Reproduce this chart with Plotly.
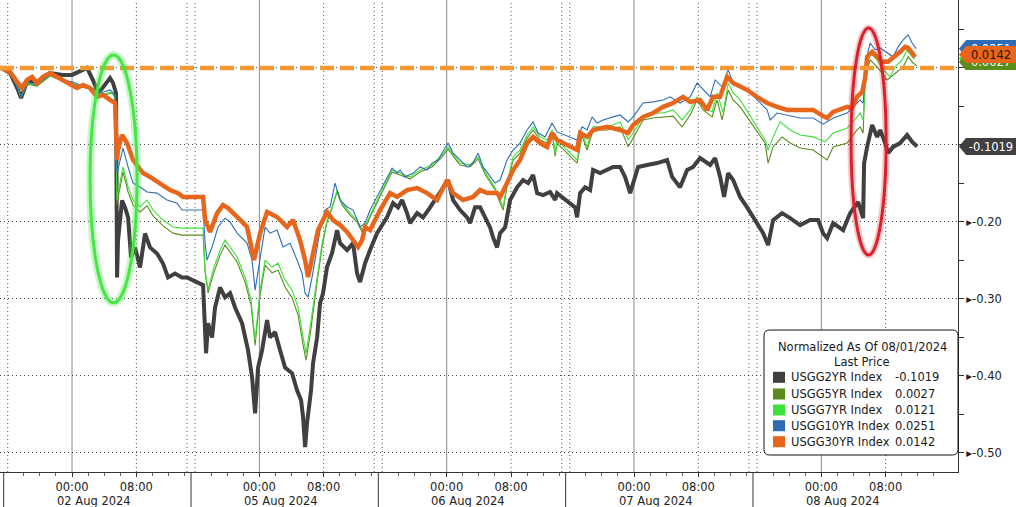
import plotly.graph_objs as go

# x: hours along the session axis (0 = 02 Aug 00:00, one session is ~23.3h wide)
# y: change in yield since the 08/01/2024 close

H_2YR = [
    -8.96, -7.71, -6.72, -6.34, -5.60, -4.35, -2.74, -1.12, 0.00, 0.75,
    1.87, 2.61, 3.23, 3.86, 4.73, 5.10, 5.47, 5.60, 5.72, 6.22,
    6.59, 6.97, 7.34, 7.84, 8.46, 9.08, 9.70, 10.57, 11.32, 11.94,
    12.81, 13.68, 14.31, 16.30, 16.67, 16.92, 17.42, 17.79, 18.41, 19.03,
    19.66, 20.28, 21.15, 21.89, 22.39, 22.77, 23.14, 23.64, 24.26, 24.63,
    25.25, 25.88, 26.50, 27.37, 27.99, 28.49, 28.74, 28.99, 29.23, 29.73,
    29.98, 30.48, 30.85, 31.22, 31.72, 32.34, 32.97, 33.34, 34.21, 34.96,
    35.45, 35.83, 36.45, 37.07, 37.94, 39.19, 39.93, 40.55, 41.05, 41.67,
    42.05, 42.92, 43.66, 44.54, 45.41, 46.15, 46.77, 47.40, 48.27, 49.14,
    49.51, 50.13, 50.76, 51.38, 52.00, 52.37, 52.87, 53.24, 53.87, 54.49,
    55.36, 56.10, 56.73, 57.35, 57.85, 58.59, 59.46, 60.09, 60.33, 62.57,
    62.82, 63.20, 63.82, 64.44, 64.81, 65.68, 66.55, 67.30, 68.17, 68.79,
    69.42, 69.79, 70.41, 71.53, 72.77, 74.02, 74.64, 75.63, 76.51, 77.25,
    78.12, 79.37, 79.99, 80.61, 81.11, 81.61, 82.23, 83.10, 83.97, 85.96,
    86.58, 87.20, 88.32, 89.32, 90.56, 91.80, 92.80, 93.42, 93.92, 94.67,
    95.91, 96.78, 97.78, 98.40, 98.52, 98.90, 99.52, 100.14, 100.52, 101.14,
    101.51, 102.13, 103.00, 103.87, 104.50, 105.12,
]
Y_2YR = [
    0.001, -0.0065, -0.0286, -0.039, -0.018, -0.018, -0.0065, -0.009, -0.009, -0.005,
    0.0, -0.016, -0.0325, -0.025, -0.013, -0.0195, -0.0325, -0.272, -0.224, -0.172,
    -0.181, -0.194, -0.246, -0.233, -0.259, -0.215, -0.233, -0.241, -0.254, -0.272,
    -0.267, -0.272, -0.272, -0.282, -0.3705, -0.3315, -0.350, -0.311, -0.285, -0.298,
    -0.2925, -0.311, -0.3315, -0.3665, -0.4015, -0.4485, -0.389, -0.3665, -0.3275, -0.350,
    -0.343, -0.3665, -0.389, -0.3965, -0.4185, -0.4315, -0.4535, -0.4925, -0.4615, -0.4185,
    -0.3835, -0.350, -0.3055, -0.2925, -0.2585, -0.2405, -0.2105, -0.2275, -0.2365, -0.2275,
    -0.2665, -0.278, -0.2535, -0.2365, -0.2145, -0.1935, -0.1755, -0.181, -0.1715, -0.1885,
    -0.2015, -0.1885, -0.194, -0.181, -0.168, -0.155, -0.1455, -0.1715, -0.1845, -0.194,
    -0.2015, -0.181, -0.181, -0.194, -0.207, -0.220, -0.233, -0.2145, -0.207, -0.1715,
    -0.155, -0.1455, -0.1495, -0.139, -0.1625, -0.165, -0.161, -0.1715, -0.1625, -0.181,
    -0.194, -0.1625, -0.155, -0.1585, -0.1325, -0.1365, -0.1325, -0.1285, -0.1285, -0.1415,
    -0.1625, -0.1495, -0.1285, -0.126, -0.1235, -0.1195, -0.1415, -0.155, -0.1325, -0.1285,
    -0.117, -0.126, -0.117, -0.1415, -0.1675, -0.1365, -0.1455, -0.1675, -0.181, -0.2145,
    -0.230, -0.1975, -0.1885, -0.195, -0.204, -0.1975, -0.1975, -0.2145, -0.221, -0.2015,
    -0.2105, -0.1885, -0.174, -0.195, -0.1235, -0.1025, -0.074, -0.0895, -0.0805, -0.0975,
    -0.1105, -0.1025, -0.0975, -0.087, -0.096, -0.1019,
]

H_5YR = [
    -8.96, -7.71, -6.72, -6.34, -5.60, -4.35, -2.74, -1.12, 0.00, 1.00,
    2.24, 3.48, 4.98, 5.35, 5.60, 5.72, 6.34, 6.97, 7.59, 8.46,
    9.33, 10.08, 11.32, 12.56, 13.68, 16.30, 16.55, 16.92, 17.54, 18.41,
    19.03, 19.66, 20.53, 21.52, 22.27, 22.77, 23.39, 24.01, 24.88, 25.63,
    26.50, 27.37, 28.11, 28.74, 29.11, 29.61, 29.98, 30.48, 31.10, 31.72,
    32.34, 32.97, 33.59, 34.58, 35.45, 36.08, 36.70, 37.07, 39.81, 40.80,
    42.05, 43.29, 44.78, 46.03, 46.77, 47.65, 48.27, 49.51, 50.51, 51.38,
    52.62, 53.24, 53.62, 54.11, 54.86, 55.73, 56.60, 57.35, 58.22, 59.09,
    59.71, 60.09, 60.33, 62.82, 63.44, 64.07, 64.81, 66.55, 68.17, 69.17,
    69.79, 71.03, 72.28, 73.52, 74.76, 75.88, 76.88, 77.75, 78.50, 79.62,
    80.24, 80.86, 81.61, 82.23, 83.10, 86.21, 86.58, 87.20, 88.32, 89.32,
    90.56, 92.18, 93.92, 94.67, 96.41, 97.65, 98.03, 98.40, 98.65, 99.27,
    100.14, 101.39, 102.38, 103.38, 104.00, 104.62, 105.12,
]
Y_5YR = [
    0.001, -0.005, -0.027, -0.039, -0.021, -0.0235, -0.0105, -0.017, -0.021, -0.0245,
    -0.027, -0.0365, -0.0325, -0.039, -0.178, -0.169, -0.135, -0.161, -0.178, -0.187,
    -0.179, -0.192, -0.205, -0.2145, -0.217, -0.217, -0.265, -0.292, -0.269, -0.243,
    -0.230, -0.239, -0.252, -0.278, -0.308, -0.360, -0.295, -0.256, -0.266, -0.2625,
    -0.2845, -0.2985, -0.3205, -0.360, -0.3795, -0.347, -0.3205, -0.278, -0.2325, -0.200,
    -0.182, -0.161, -0.178, -0.191, -0.200, -0.213, -0.2025, -0.1935, -0.135, -0.139,
    -0.144, -0.135, -0.1285, -0.1155, -0.105, -0.118, -0.126, -0.1285, -0.118, -0.138,
    -0.1585, -0.1755, -0.1845, -0.1535, -0.1195, -0.1105, -0.091, -0.0805, -0.0935, -0.0975,
    -0.0845, -0.1145, -0.0975, -0.1235, -0.0885, -0.1065, -0.0805, -0.0805, -0.0765, -0.1025,
    -0.091, -0.0675, -0.065, -0.0635, -0.0625, -0.0765, -0.061, -0.0415, -0.0545, -0.0635,
    -0.0415, -0.0675, -0.0285, -0.0415, -0.0505, -0.0975, -0.1235, -0.1025, -0.0895, -0.0975,
    -0.104, -0.1065, -0.1195, -0.1025, -0.0975, -0.0805, -0.0765, -0.0845, -0.0115, 0.0105,
    0.0015, -0.0155, -0.0065, 0.0015, 0.0145, 0.0065, 0.0027,
]

H_7YR = [
    -8.96, -7.71, -6.72, -6.34, -5.60, -4.35, -2.74, -1.12, 0.00, 1.00,
    2.24, 3.48, 4.98, 5.35, 5.60, 5.72, 6.34, 6.97, 7.59, 8.46,
    9.33, 10.08, 11.32, 12.56, 13.68, 16.30, 16.55, 16.92, 17.54, 18.41,
    19.03, 19.66, 20.53, 21.52, 22.27, 22.77, 23.39, 24.01, 24.88, 25.63,
    26.50, 27.37, 28.11, 28.74, 29.11, 29.61, 29.98, 30.48, 31.10, 31.72,
    32.34, 32.97, 33.59, 34.58, 35.45, 36.08, 36.70, 37.07, 39.81, 40.80,
    42.05, 43.29, 44.78, 46.03, 46.77, 47.65, 48.27, 49.51, 50.51, 51.38,
    52.62, 53.24, 53.62, 54.11, 54.86, 55.73, 56.60, 57.35, 58.22, 59.09,
    59.71, 60.09, 60.33, 62.82, 63.44, 64.07, 64.81, 66.55, 68.17, 69.17,
    69.79, 71.03, 72.28, 73.52, 74.76, 75.88, 76.88, 77.75, 78.50, 79.62,
    80.24, 80.99, 81.61, 82.23, 83.10, 86.21, 86.58, 87.20, 88.08, 89.32,
    90.56, 92.18, 93.67, 94.67, 96.41, 97.65, 98.03, 98.40, 98.78, 99.27,
    100.14, 100.89, 101.76, 102.38, 103.25, 103.87, 104.50, 104.87,
]
Y_7YR = [
    0.001, -0.005, -0.026, -0.0375, -0.0195, -0.022, -0.0105, -0.0155, -0.0195, -0.0235,
    -0.026, -0.035, -0.031, -0.0375, -0.1715, -0.1625, -0.1285, -0.1545, -0.1715, -0.1805,
    -0.1715, -0.1845, -0.1975, -0.2065, -0.208, -0.208, -0.2625, -0.2885, -0.2625, -0.2365,
    -0.2235, -0.2325, -0.2455, -0.2715, -0.3015, -0.3535, -0.2885, -0.2495, -0.2585, -0.2535,
    -0.2755, -0.2885, -0.3105, -0.3495, -0.3705, -0.3365, -0.3105, -0.2715, -0.2275, -0.1975,
    -0.1805, -0.1585, -0.1755, -0.1885, -0.1975, -0.2105, -0.200, -0.191, -0.1325, -0.1365,
    -0.1415, -0.1325, -0.126, -0.113, -0.1025, -0.1155, -0.1235, -0.126, -0.1155, -0.135,
    -0.156, -0.1715, -0.1805, -0.1495, -0.1155, -0.1065, -0.087, -0.0765, -0.0895, -0.0935,
    -0.0805, -0.1105, -0.0935, -0.1195, -0.0845, -0.1025, -0.0765, -0.0765, -0.070, -0.0935,
    -0.0845, -0.0635, -0.0585, -0.0585, -0.0545, -0.0675, -0.0545, -0.0375, -0.0505, -0.057,
    -0.0325, -0.0585, -0.0195, -0.0325, -0.0415, -0.0935, -0.1065, -0.0895, -0.070, -0.0805,
    -0.087, -0.0895, -0.096, -0.0845, -0.078, -0.0635, -0.0585, -0.0675, -0.0025, 0.0195,
    0.0105, -0.0025, -0.0115, 0.0015, 0.0105, 0.0235, 0.0145, 0.0121,
]

H_10YR = [
    -8.96, -7.71, -6.72, -6.34, -5.60, -4.35, -2.74, -1.12, 0.00, 1.00,
    2.24, 3.48, 4.73, 5.35, 5.60, 6.34, 6.97, 7.59, 8.46, 9.33,
    10.57, 11.82, 13.06, 13.68, 16.30, 16.55, 16.79, 17.42, 18.16, 19.03,
    19.66, 20.53, 21.77, 22.39, 22.77, 23.39, 24.01, 24.63, 25.50, 26.25,
    27.12, 27.99, 28.61, 28.99, 29.36, 29.86, 30.48, 30.85, 31.47, 32.10,
    32.72, 33.34, 34.21, 34.96, 35.83, 36.45, 37.07, 39.81, 40.43, 40.80,
    41.43, 42.42, 43.29, 44.16, 44.78, 45.53, 46.03, 46.77, 47.40, 48.27,
    49.14, 49.88, 50.51, 51.13, 52.00, 52.62, 53.24, 54.11, 54.86, 55.73,
    56.60, 57.35, 57.97, 58.84, 59.71, 60.33, 62.82, 63.44, 64.07, 64.69,
    65.31, 66.06, 67.30, 68.17, 69.17, 69.79, 71.03, 72.28, 73.52, 74.39,
    75.63, 76.88, 77.75, 78.50, 79.37, 79.99, 80.86, 81.61, 82.23, 83.10,
    83.97, 86.46, 86.83, 87.70, 88.95, 90.56, 92.18, 93.42, 94.67, 96.41,
    97.65, 98.03, 98.40, 98.78, 99.27, 99.89, 100.52, 101.39, 102.13, 102.76,
    103.38, 104.00, 104.50, 105.00,
]
Y_10YR = [
    0.001, -0.005, -0.026, -0.0375, -0.018, -0.022, -0.009, -0.0155, -0.018, -0.022,
    -0.0245, -0.0325, -0.0285, -0.035, -0.1365, -0.104, -0.1285, -0.1495, -0.1545, -0.161,
    -0.1625, -0.1715, -0.1755, -0.1845, -0.1845, -0.2275, -0.2495, -0.2325, -0.2065, -0.195,
    -0.200, -0.2145, -0.2275, -0.2495, -0.2885, -0.2455, -0.2065, -0.2145, -0.2105, -0.2325,
    -0.2275, -0.2495, -0.2665, -0.2925, -0.2975, -0.2715, -0.2365, -0.2105, -0.1845, -0.1805,
    -0.1495, -0.1715, -0.1805, -0.1845, -0.2065, -0.2015, -0.1845, -0.130, -0.1365, -0.1325,
    -0.1415, -0.1365, -0.1285, -0.1325, -0.1235, -0.1195, -0.1105, -0.0975, -0.1105, -0.1195,
    -0.1285, -0.1235, -0.1105, -0.1285, -0.1415, -0.1495, -0.1455, -0.1195, -0.1065, -0.0975,
    -0.0805, -0.070, -0.0845, -0.0895, -0.0715, -0.083, -0.0935, -0.0765, -0.0805, -0.0635,
    -0.0715, -0.0675, -0.0635, -0.061, -0.070, -0.0635, -0.0455, -0.044, -0.0415, -0.0375,
    -0.0455, -0.0375, -0.0195, -0.0285, -0.0375, -0.0155, -0.0245, -0.0025, -0.0195, -0.0245,
    -0.0285, -0.0545, -0.0675, -0.0585, -0.061, -0.065, -0.065, -0.073, -0.065, -0.0585,
    -0.0455, -0.0415, -0.0455, 0.0105, 0.0325, 0.0235, 0.026, 0.0195, 0.0145, 0.0275,
    0.0365, 0.043, 0.0325, 0.0251,
]

H_30YR = [
    -8.96, -7.71, -6.72, -6.22, -5.60, -4.98, -4.35, -3.61, -2.74, -1.87,
    -1.12, -0.25, 0.62, 1.37, 2.24, 3.11, 3.86, 4.73, 5.35, 5.60,
    5.72, 6.22, 6.84, 7.59, 8.83, 9.70, 10.95, 12.19, 13.19, 13.81,
    16.30, 16.55, 17.17, 18.04, 18.78, 19.41, 20.53, 21.77, 22.64, 23.39,
    24.26, 25.50, 26.75, 27.49, 28.36, 28.99, 29.36, 29.86, 30.60, 31.22,
    31.72, 32.47, 33.34, 34.21, 34.96, 35.58, 36.08, 36.45, 37.07, 38.32,
    39.56, 40.43, 41.67, 42.92, 44.16, 45.41, 46.65, 47.40, 48.64, 49.88,
    50.76, 51.63, 52.87, 53.24, 54.11, 54.86, 55.73, 56.60, 57.35, 58.22,
    59.09, 59.71, 60.33, 62.82, 63.20, 64.07, 64.81, 66.55, 68.17, 69.17,
    69.79, 71.03, 72.28, 73.52, 74.76, 76.01, 76.88, 78.12, 78.99, 79.74,
    80.61, 81.48, 82.23, 83.10, 83.97, 85.21, 86.46, 87.70, 88.95, 90.56,
    92.18, 93.42, 93.92, 94.67, 96.41, 97.03, 97.65, 98.28, 98.65, 98.90,
    99.52, 100.14, 100.76, 101.51, 102.13, 103.00, 103.63, 104.00, 104.50, 104.87,
]
Y_30YR = [
    0.001, -0.005, -0.0195, -0.026, -0.0155, -0.0115, -0.0195, -0.0115, -0.0065, -0.0115,
    -0.0155, -0.022, -0.026, -0.022, -0.026, -0.0375, -0.035, -0.0415, -0.0455, -0.1195,
    -0.1065, -0.087, -0.0975, -0.1195, -0.1365, -0.1415, -0.1495, -0.1585, -0.1625, -0.1675,
    -0.1675, -0.1975, -0.213, -0.1885, -0.178, -0.182, -0.1935, -0.2065, -0.2495, -0.2145,
    -0.187, -0.1935, -0.2065, -0.1975, -0.2235, -0.2495, -0.2715, -0.2455, -0.2105, -0.1975,
    -0.187, -0.1975, -0.204, -0.213, -0.2235, -0.2325, -0.2235, -0.2065, -0.2105, -0.1845,
    -0.1625, -0.1675, -0.1585, -0.156, -0.1625, -0.1715, -0.1455, -0.1625, -0.1715, -0.1675,
    -0.1585, -0.1625, -0.1625, -0.1675, -0.1495, -0.1325, -0.1195, -0.0975, -0.0895, -0.0975,
    -0.1025, -0.0845, -0.0935, -0.1065, -0.0845, -0.0895, -0.0805, -0.0765, -0.0805, -0.0845,
    -0.074, -0.0635, -0.0585, -0.0505, -0.0455, -0.0375, -0.044, -0.0415, -0.0545, -0.0375,
    -0.0375, -0.0115, -0.0195, -0.0245, -0.0285, -0.0375, -0.0455, -0.0505, -0.0545, -0.0545,
    -0.0545, -0.0625, -0.065, -0.057, -0.0505, -0.052, -0.0375, -0.031, -0.013, 0.0145,
    0.021, 0.0145, 0.008, 0.008, 0.013, 0.021, 0.0275, 0.026, 0.0195, 0.0142,
]

SERIES = ["USGG2YR Index", "USGG5YR Index", "USGG7YR Index", "USGG10YR Index", "USGG30YR Index"]
LAST_PRICE = [-0.1019, 0.0027, 0.0121, 0.0251, 0.0142]
DAYS = ["02 Aug 2024", "05 Aug 2024", "06 Aug 2024", "07 Aug 2024", "08 Aug 2024"]
DAY_MIDNIGHT = [0.0, 23.3, 46.6, 69.9, 93.2]
TIME_LABELS = ["00:00", "08:00"]
Y_TICKS = [-0.5, -0.4, -0.3, -0.2, -0.1, 0.0]
Y_MINOR = [-0.45, -0.35, -0.25, -0.15, -0.05, 0.05]

COLORS = ["#404040", "#5a8c1c", "#3ee03a", "#2e6db6", "#e8661c"]
WIDTHS = [4, 1.1, 1.1, 1.1, 4.5]
FONT = "DejaVu Sans"

xs = [H_2YR, H_5YR, H_7YR, H_10YR, H_30YR]
ys = [Y_2YR, Y_5YR, Y_7YR, Y_10YR, Y_30YR]

fig = go.Figure()
for name, x, y, c, w in zip(SERIES, xs, ys, COLORS, WIDTHS):
    fig.add_trace(go.Scatter(x=x, y=y, mode="lines", name=name,
                             line=dict(color=c, width=w), showlegend=False))

shapes = []
annotations = []


def note(x, y, text, xref="paper", yref="paper", xanchor="center", size=11.5, color="#1a1a1a"):
    # annotations always get explicit anchors (paper refs otherwise auto-anchor)
    return dict(xref=xref, yref=yref, x=x, y=y, text=text, showarrow=False,
                xanchor=xanchor, yanchor="middle", font=dict(size=size, color=color))


# session grid: solid at midnight, dotted at 08:00 and around the session break
for d in DAY_MIDNIGHT:
    shapes.append(dict(type="line", xref="x", yref="paper", x0=d, x1=d, y0=0, y1=1,
                       line=dict(color="#8a8a8a", width=1), layer="below"))
    for h in (d + 8, d - 9, d - 8):
        shapes.append(dict(type="line", xref="x", yref="paper", x0=h, x1=h, y0=0, y1=1,
                           line=dict(color="#555", width=1, dash="1px,3px"), layer="below"))
    shapes.append(dict(type="line", xref="x", yref="paper", x0=d - 8.5, x1=d - 8.5,
                       y0=-0.075, y1=0, line=dict(color="#333", width=1)))
for d, lab in zip(DAY_MIDNIGHT, DAYS):
    annotations.append(note(d + 2.7, -0.062, lab, xref="x", color="#222"))

# orange dashed line at the normalisation level
shapes.append(dict(type="line", xref="paper", yref="y", x0=0, x1=1, y0=0, y1=0,
                   line=dict(color="#f39a33", width=4.5, dash="14px,6px"), layer="above"))

# highlight ellipses
shapes.append(dict(type="circle", xref="x", yref="y", x0=2.24, x1=8.09, y0=-0.305, y1=0.017,
                   line=dict(color="rgba(70,230,70,0.30)", width=8), layer="above"))
shapes.append(dict(type="circle", xref="x", yref="y", x0=2.24, x1=8.09, y0=-0.305, y1=0.017,
                   line=dict(color="#45e645", width=3), layer="above"))
shapes.append(dict(type="circle", xref="x", yref="y", x0=96.9, x1=101.26, y0=-0.243, y1=0.052,
                   line=dict(color="rgba(220,30,40,0.25)", width=7), layer="above"))
shapes.append(dict(type="circle", xref="x", yref="y", x0=96.9, x1=101.26, y0=-0.243, y1=0.052,
                   line=dict(color="#dc1f2b", width=3), layer="above"))

# last-price tags on the right axis, stacked like the terminal does
# (blue, green, olive, orange, grey -- later ones sit on top)
TAG_Y = [0.0251, 0.0121, 0.0078, 0.0175, -0.1019]
TAG_IDX = [3, 2, 1, 4, 0]
TAG_TEXT_COLOR = ["white", "#1a1a1a", "white", "#2a1200", "white"]
hh = 0.0112
for yc, i, tc in zip(TAG_Y, TAG_IDX, TAG_TEXT_COLOR):
    shapes.append(dict(type="path", xref="paper", yref="y", layer="above",
                       path=f"M 1.001,{yc} L 1.0085,{yc + hh} L 1.0085,{yc - hh} Z",
                       fillcolor=COLORS[i], line=dict(width=0)))
    annotations.append(dict(xref="paper", yref="y", x=1.008, y=yc, xanchor="left",
                            yanchor="middle", text=f"{LAST_PRICE[i]:.4f}", showarrow=False,
                            width=50, height=17, borderpad=0, borderwidth=0,
                            bgcolor=COLORS[i], font=dict(size=11.5, color=tc)))

# legend box
x0, x1, y0, y1 = 0.7975, 1.0, 0.036, 0.3008
rx, ry = 0.006, 0.012
shapes.append(dict(type="path", xref="paper", yref="paper", layer="above",
                   path=(f"M {x0 + rx},{y1} L {x1 - rx},{y1} Q {x1},{y1} {x1},{y1 - ry} "
                         f"L {x1},{y0 + ry} Q {x1},{y0} {x1 - rx},{y0} L {x0 + rx},{y0} "
                         f"Q {x0},{y0} {x0},{y0 + ry} L {x0},{y1 - ry} Q {x0},{y1} {x0 + rx},{y1} Z"),
                   fillcolor="white", line=dict(color="#111", width=1)))
annotations.append(note(0.8998, 0.2655, "Normalized As Of 08/01/2024"))
annotations.append(note(0.8998, 0.2324, "Last Price"))
ROW_Y = [0.2006, 0.1653, 0.1314, 0.0981, 0.0642]
for name, val, c, ry_ in zip(SERIES, LAST_PRICE, COLORS, ROW_Y):
    shapes.append(dict(type="rect", xref="paper", yref="paper", layer="above",
                       x0=0.8069, x1=0.8194, y0=ry_ - 0.0117, y1=ry_ + 0.0117,
                       fillcolor=c, line=dict(width=0)))
    annotations.append(note(0.8236, ry_, name, xanchor="left"))
    annotations.append(note(0.9322, ry_, f"{val:.4f}", xanchor="left"))

x_ticks = [d + h for d in DAY_MIDNIGHT for h in (0, 8)]
x_text = TIME_LABELS * len(DAY_MIDNIGHT)
x_minor = [d + h for d in DAY_MIDNIGHT for h in range(-8, 15, 2) if h % 8 != 0]
y_text = ["▸%.2f" % v if v <= -0.2 else "" for v in Y_TICKS]

fig.update_layout(
    width=1016, height=507,
    margin=dict(l=0, r=58, t=0, b=35),
    paper_bgcolor="white", plot_bgcolor="white",
    showlegend=False,
    font=dict(family=FONT, size=11.5, color="#222"),
    shapes=shapes, annotations=annotations,
    xaxis=dict(range=[-8.96, 110.2], tickmode="array", tickvals=x_ticks, ticktext=x_text,
               ticks="outside", ticklen=4, tickcolor="#333", showline=True, linecolor="#333",
               showgrid=False, zeroline=False,
               minor=dict(tickmode="array", tickvals=x_minor, ticks="outside", ticklen=3,
                          tickcolor="#666", showgrid=False)),
    yaxis=dict(side="right", range=[-0.5247, 0.0883], tickmode="array", tickvals=Y_TICKS,
               ticktext=y_text, ticks="outside", ticklen=5, tickcolor="#333",
               showline=True, linecolor="#333", showgrid=True, gridcolor="#444",
               griddash="1px,3px", gridwidth=1, zeroline=False,
               minor=dict(tickmode="array", tickvals=Y_MINOR, ticks="outside", ticklen=5,
                          tickcolor="#333", showgrid=False)),
)

# page body has a default 8px margin; drop it so the chart sits at the window corner
fig.write_html("out.html", config={"displayModeBar": False},
               post_script="document.body.style.margin='0';")
